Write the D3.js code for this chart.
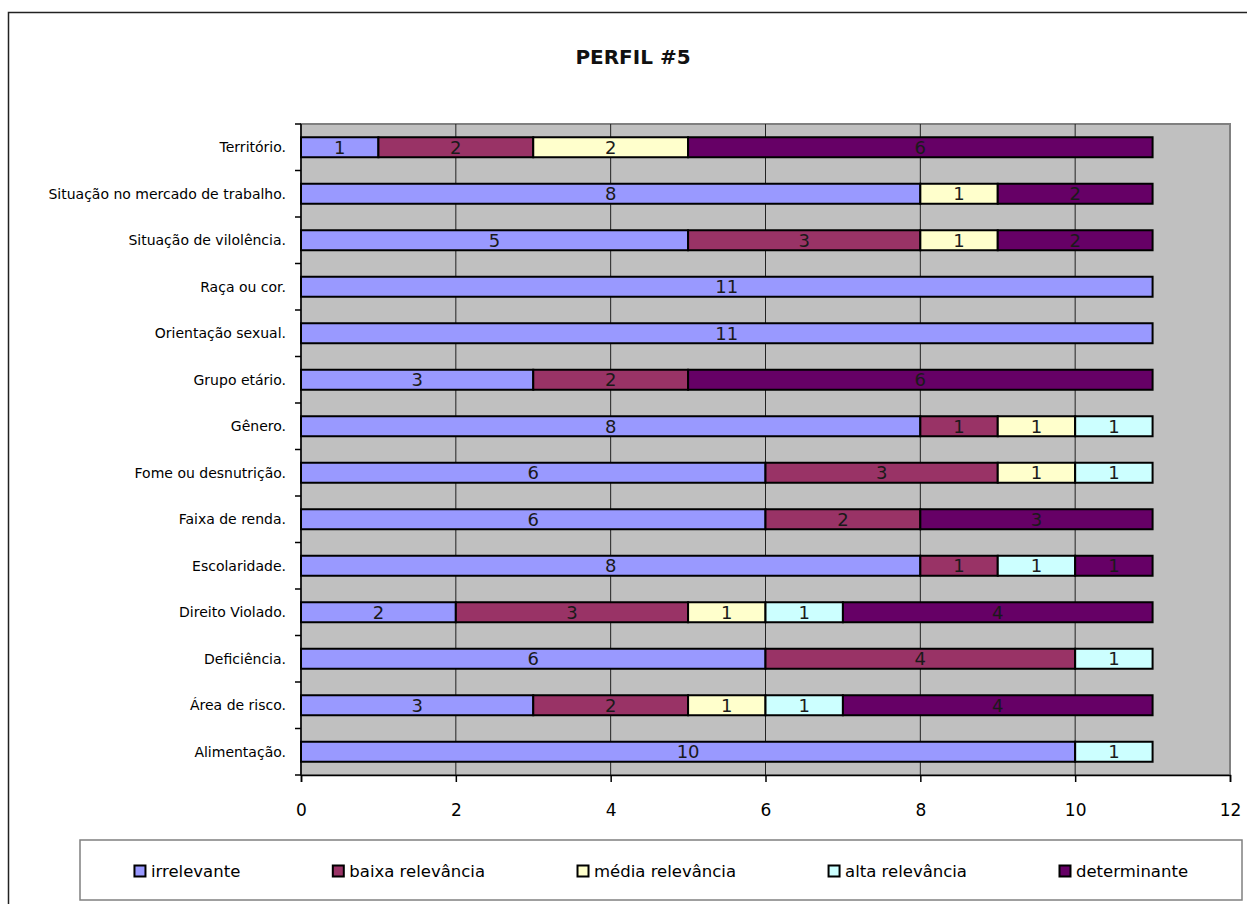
<!DOCTYPE html>
<html><head><meta charset="utf-8">
<script src="https://cdn.jsdelivr.net/npm/d3@7"></script>
<style>body{margin:0;background:#fff}svg{display:block}text{font-family:"DejaVu Sans",Verdana,sans-serif}</style>
</head><body><svg id="c" width="1247" height="904"></svg>
<script>
const title = "PERFIL #5";
const categories = ["Território.","Situação no mercado de trabalho.","Situação de vilolência.","Raça ou cor.","Orientação sexual.","Grupo etário.","Gênero.","Fome ou desnutrição.","Faixa de renda.","Escolaridade.","Direito Violado.","Deficiência.","Área de risco.","Alimentação."];
const seriesNames = ["irrelevante","baixa relevância","média relevância","alta relevância","determinante"];
const irrelevante     = [1,8,5,11,11,3,8,6,6,8,2,6,3,10];
const baixaRelevancia = [2,0,3,0,0,2,1,3,2,1,3,4,2,0];
const mediaRelevancia = [2,1,1,0,0,0,1,1,0,0,1,0,1,0];
const altaRelevancia  = [0,0,0,0,0,0,1,1,0,1,1,1,1,1];
const determinante    = [6,2,2,0,0,6,0,0,3,1,4,0,4,0];
const xTicks = [0,2,4,6,8,10,12];
const colors = ["#9999FF","#993366","#FFFFCC","#CCFFFF","#660066"];

const seriesVals = [irrelevante,baixaRelevancia,mediaRelevancia,altaRelevancia,determinante];
const rows = categories.map((c,i)=>{const o={cat:c}; seriesNames.forEach((s,j)=>o[s]=seriesVals[j][i]); return o;});
const stack = d3.stack().keys(seriesNames)(rows);

const svg = d3.select("#c");
const L=301, R=1230, T=124, B=775;
const x = d3.scaleLinear().domain([0,12]).range([L,R]);
const y = d3.scaleBand().domain(categories).range([T,B]).paddingInner(0.57).paddingOuter(0.285);

// outer frame
svg.append("rect").attr("x",8.5).attr("y",12.5).attr("width",1260).attr("height",920).attr("fill","#fff").attr("stroke","#222").attr("stroke-width",1.5);

svg.append("text").attr("x",633).attr("y",64).attr("text-anchor","middle").attr("font-size",20).attr("font-weight","bold").attr("fill","#111").text(title);

// plot background
svg.append("rect").attr("x",L).attr("y",T).attr("width",R-L).attr("height",B-T).attr("fill","#C0C0C0").attr("stroke","#808080").attr("stroke-width",2);

// grid
svg.append("g").selectAll("line").data(xTicks.filter(t=>t>0&&t<12)).join("line")
  .attr("x1",d=>x(d)).attr("x2",d=>x(d)).attr("y1",T).attr("y2",B).attr("stroke","#222").attr("stroke-width",1);

// bars
const g = svg.append("g");
stack.forEach((s,si)=>{
  g.selectAll(null).data(s.filter(d=>d[1]-d[0]>0)).join("rect")
    .attr("x",d=>x(d[0])).attr("y",d=>y(d.data.cat)).attr("width",d=>x(d[1])-x(d[0])).attr("height",y.bandwidth())
    .attr("fill",colors[si]).attr("stroke","#000").attr("stroke-width",2);
});
stack.forEach((s,si)=>{
  g.selectAll(null).data(s.filter(d=>d[1]-d[0]>0)).join("text")
    .attr("x",d=>x((d[0]+d[1])/2)).attr("y",d=>y(d.data.cat)+y.bandwidth()/2).attr("dy","0.36em")
    .attr("text-anchor","middle").attr("font-size",18).attr("fill","#1a1a1a").text(d=>d[1]-d[0]);
});

// y axis
svg.append("line").attr("x1",L).attr("x2",L).attr("y1",T).attr("y2",B).attr("stroke","#000").attr("stroke-width",1.5);
const step = (B-T)/categories.length;
svg.append("g").selectAll("line").data(d3.range(categories.length+1)).join("line")
  .attr("x1",L-6).attr("x2",L).attr("y1",i=>T+i*step).attr("y2",i=>T+i*step).attr("stroke","#000").attr("stroke-width",1.5);
svg.append("g").selectAll("text").data(categories).join("text")
  .attr("x",286).attr("y",d=>y(d)+y.bandwidth()/2).attr("dy","0.36em").attr("text-anchor","end").attr("font-size",14).attr("fill","#000").text(d=>d);

// x axis
const xa = svg.append("g").attr("transform",`translate(0,${B})`).call(d3.axisBottom(x).tickValues(xTicks).tickSize(7).tickPadding(22).tickFormat(d3.format("d")));
xa.select(".domain").attr("stroke","#000").attr("stroke-width",1.5);
xa.selectAll(".tick line").attr("stroke","#000").attr("stroke-width",1.5);
xa.selectAll(".tick text").attr("font-size",17).attr("font-family","DejaVu Sans").attr("fill","#000");

// legend
svg.append("rect").attr("x",80).attr("y",840).attr("width",1162).attr("height",60).attr("fill","#fff").attr("stroke","#808080").attr("stroke-width",1.5);
const lg = svg.append("g");
let cx = 0;
const items = seriesNames.map((n,i)=>{
  const it = lg.append("g").attr("transform",`translate(${cx},0)`);
  it.append("rect").attr("x",0.5).attr("y",-5.5).attr("width",11).attr("height",11).attr("fill",colors[i]).attr("stroke","#000").attr("stroke-width",2);
  const t = it.append("text").attr("x",17).attr("y",0).attr("dy","0.36em").attr("font-size",16.5).attr("fill","#000").text(n);
  const w = 17 + t.node().getComputedTextLength();
  const start = cx; cx += w + 92;
  return {start, end:start+w};
});
const totalW = items[items.length-1].end;
lg.attr("transform",`translate(${661-totalW/2},871)`);
</script></body></html>
